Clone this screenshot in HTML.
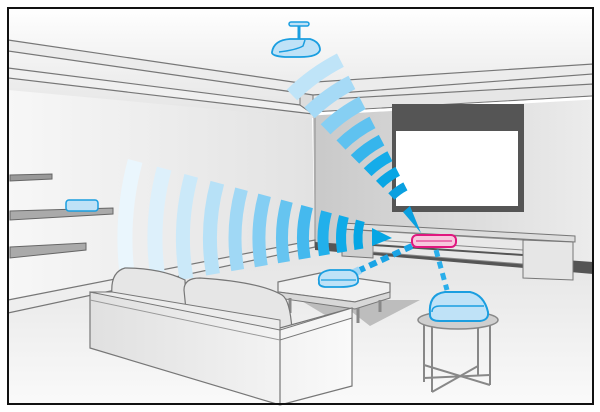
<!DOCTYPE html>
<html><head><style>html,body{margin:0;padding:0;background:#fff}svg{display:block}</style></head>
<body>
<svg width="600" height="412" viewBox="0 0 600 412" xmlns="http://www.w3.org/2000/svg">
<defs>
<linearGradient id="ceil" x1="0" y1="0" x2="0" y2="1"><stop offset="0" stop-color="#fff"/><stop offset="1" stop-color="#e4e4e4"/></linearGradient>
<linearGradient id="lwall" x1="0" y1="0" x2="1" y2="0"><stop offset="0" stop-color="#f7f7f7"/><stop offset="1" stop-color="#e2e2e2"/></linearGradient>
<linearGradient id="bwall" x1="0" y1="0" x2="1" y2="0"><stop offset="0" stop-color="#c9c9c9"/><stop offset="1" stop-color="#ececec"/></linearGradient>
<linearGradient id="floor" x1="0" y1="0" x2="0" y2="1"><stop offset="0" stop-color="#e4e4e4"/><stop offset="1" stop-color="#fafafa"/></linearGradient>
<linearGradient id="sofaf" x1="0" y1="0" x2="1" y2="0"><stop offset="0" stop-color="#e0e0e0"/><stop offset="1" stop-color="#fafafa"/></linearGradient>
</defs>
<rect x="0" y="0" width="600" height="412" fill="#fff"/>
<!-- ceiling -->
<rect x="8" y="8" width="586" height="110" fill="url(#ceil)"/>
<!-- left wall -->
<polygon points="8,90 312,118 315,247 8,310" fill="url(#lwall)"/>
<!-- floor -->
<polygon points="8,310 315,247 593,272 593,405 8,405" fill="url(#floor)"/>
<!-- back wall -->
<polygon points="313,114 593,98 593,272 315,247" fill="url(#bwall)"/>
<line x1="315" y1="116" x2="315" y2="248" stroke="#9a9a9a" stroke-width="1.2"/>
<!-- crown left -->
<polygon points="8,40 300,83 300,93 8,51" fill="#ececec" stroke="#777" stroke-width="1.2"/>
<polygon points="8,68 300,105 313,114 8,78" fill="#f0f0f0" stroke="#777" stroke-width="1.2"/>
<polygon points="300,83 313,88 313,114 300,105" fill="#ddd" stroke="#777" stroke-width="1"/>
<!-- crown right -->
<polygon points="300,83 593,64 593,74 313,95 300,93" fill="#ececec" stroke="#777" stroke-width="1.2"/>
<polygon points="313,100 593,84 593,96 313,112" fill="#e6e6e6" stroke="#777" stroke-width="1.2"/>
<line x1="313" y1="114" x2="593" y2="98" stroke="#fff" stroke-width="3"/>
<!-- TV -->
<rect x="392" y="104" width="132" height="108" fill="#555"/>
<rect x="396" y="131" width="122" height="75" fill="#fff"/>
<!-- baseboards -->
<polygon points="8,300 315,240 315,247 8,313" fill="#eee" stroke="#777" stroke-width="1.2"/>
<polygon points="315,242 593,262 593,274 315,250" fill="#555"/>
<!-- left shelves -->
<polygon points="10,175 52,174 52,179 10,181" fill="#999" stroke="#666"/>
<polygon points="10,211 113,208 113,214 10,220" fill="#aaa" stroke="#666"/>
<polygon points="10,247 86,243 86,250 10,258" fill="#aaa" stroke="#666"/>
<rect x="66" y="200" width="32" height="11" rx="3" fill="#bfe2f7" stroke="#1a9ee0" stroke-width="1.5"/>
<!-- console -->
<polygon points="342,223 575,236 575,242 342,229" fill="#ddd" stroke="#777"/>
<polygon points="342,229 373,231 373,258 342,256" fill="#cfcfcf" stroke="#777"/>
<polygon points="373,231 523,240 523,264 373,252" fill="#e8e8e8" stroke="#888"/>
<line x1="373" y1="240" x2="523" y2="250" stroke="#888"/>
<line x1="373" y1="245" x2="523" y2="255" stroke="#555" stroke-width="2"/>
<polygon points="523,240 573,242 573,280 523,278" fill="#e6e6e6" stroke="#777"/>
<!-- left waves -->
<g fill="none" stroke-linecap="butt">
<path d="M135.2,160.9 A300 300 0 0 0 129.2,288.7" stroke="#eaf6fd" stroke-width="15"/>
<path d="M164.2,168.6 A270 270 0 0 0 158.8,283.6" stroke="#ddf0fb" stroke-width="15"/>
<path d="M191.2,175.8 A242 242 0 0 0 186.4,278.9" stroke="#cbe9f9" stroke-width="14"/>
<path d="M217.3,182.7 A215 215 0 0 0 213,274.3" stroke="#b7e1f7" stroke-width="14"/>
<path d="M241.5,189.2 A190 190 0 0 0 237.7,270.1" stroke="#a0d8f5" stroke-width="13"/>
<path d="M264.6,195.3 A166 166 0 0 0 261.3,266.1" stroke="#84cef3" stroke-width="13"/>
<path d="M286.9,201.2 A143 143 0 0 0 284,262.2" stroke="#66c4f0" stroke-width="12"/>
<path d="M307.1,206.6 A122 122 0 0 0 304.7,258.6" stroke="#45b9ee" stroke-width="12"/>
<path d="M326.5,211.8 A102 102 0 0 0 324.4,255.2" stroke="#22b0eb" stroke-width="11"/>
<path d="M343.9,216.4 A84 84 0 0 0 342.2,252.2" stroke="#0fabe8" stroke-width="10"/>
<path d="M360.3,220.8 A67 67 0 0 0 358.9,249.3" stroke="#06a6e4" stroke-width="9"/>
</g>
<polygon points="372,228 392,238 372,246" fill="#06a6e4"/>
<!-- ceiling waves -->
<g fill="none">
<path d="M340.4,60.2 A200 200 0 0 0 292,95" stroke="#bfe4f8" stroke-width="15"/>
<path d="M351.9,82.4 A175 175 0 0 0 309.5,112.9" stroke="#a6daf6" stroke-width="15"/>
<path d="M362.4,102.9 A152 152 0 0 0 325.6,129.3" stroke="#86cff3" stroke-width="14"/>
<path d="M372.5,122.4 A130 130 0 0 0 341,145" stroke="#5fc2f0" stroke-width="13"/>
<path d="M381.6,140.2 A110 110 0 0 0 355,159.4" stroke="#36b5ec" stroke-width="12"/>
<path d="M389.9,156.2 A92 92 0 0 0 367.6,172.2" stroke="#14ace9" stroke-width="11"/>
<path d="M397.7,171.3 A75 75 0 0 0 379.5,184.4" stroke="#08a6e4" stroke-width="10"/>
<path d="M405.4,186.4 A58 58 0 0 0 391.4,196.5" stroke="#0aa0e0" stroke-width="9"/>
</g>
<polygon points="410,206 403,212 421,233" fill="#0aa0e0"/>
<!-- dashes to table & stool -->
<line x1="412" y1="246" x2="360" y2="270" stroke="#1aa4e6" stroke-width="6" stroke-dasharray="8 5"/>
<line x1="360" y1="270" x2="352" y2="274" stroke="#9fd6f5" stroke-width="8"/>
<line x1="436" y1="250" x2="447" y2="290" stroke="#2aaeea" stroke-width="5" stroke-dasharray="7 5"/>
<!-- soundbar -->
<rect x="412" y="235" width="44" height="12" rx="5" fill="#f7c8de" stroke="#e0177f" stroke-width="2"/>
<line x1="416" y1="241" x2="452" y2="241" stroke="#e0177f" stroke-width="1"/>
<!-- ceiling speaker -->
<rect x="289" y="22" width="20" height="4" rx="2" fill="#bfe2f7" stroke="#1a9ee0" stroke-width="1.5"/>
<line x1="299" y1="26" x2="299" y2="40" stroke="#1a9ee0" stroke-width="3"/>
<path d="M272,52 Q274,40 290,39 L310,39 Q320,42 320,50 Q318,57 300,57 L285,57 Q271,56 272,52Z" fill="#bfe2f7" stroke="#1a9ee0" stroke-width="1.8"/>
<path d="M279,52 Q296,50 303,46 L305,40" fill="none" stroke="#1a9ee0" stroke-width="1.5"/>
<!-- rug -->
<polygon points="300,300 420,300 370,326 352,312 330,318" fill="#bdbdbd"/>
<!-- coffee table -->
<polygon points="278,282 320,273 390,283 390,292 355,302 278,292" fill="#f0f0f0" stroke="#777" stroke-width="1.2"/>
<polygon points="278,292 355,302 390,292 390,298 355,309 278,298" fill="#d8d8d8" stroke="#777"/>
<line x1="290" y1="298" x2="290" y2="313" stroke="#888" stroke-width="3"/>
<line x1="358" y1="308" x2="358" y2="323" stroke="#888" stroke-width="3"/>
<line x1="380" y1="300" x2="380" y2="312" stroke="#888" stroke-width="3"/>
<path d="M319,282 Q317,272 330,270 L350,270 Q359,272 358,282 Q356,287 340,287 L325,287 Q318,286 319,282Z" fill="#bfe2f7" stroke="#1a9ee0" stroke-width="1.8"/>
<line x1="321" y1="280" x2="356" y2="280" stroke="#1a9ee0" stroke-width="1.2"/>
<!-- sofa -->
<path d="M112,295 Q110,272 125,268 Q160,268 185,280 L186,312 L115,300Z" fill="#e6e6e6" stroke="#777" stroke-width="1.2"/>
<path d="M184,290 Q184,278 200,278 Q260,282 282,295 Q290,300 292,330 L186,310Z" fill="#e6e6e6" stroke="#777" stroke-width="1.2"/>
<polygon points="90,292 115,296 280,328 352,308 352,386 280,405 90,348" fill="url(#sofaf)" stroke="#777" stroke-width="1.2"/>
<polygon points="90,292 112,292 280,320 280,330" fill="#ececec" stroke="#777"/>
<polygon points="280,330 352,308 352,318 280,340" fill="#f5f5f5" stroke="#777"/>
<line x1="280" y1="330" x2="280" y2="405" stroke="#777" stroke-width="1.2"/>
<line x1="90" y1="300" x2="280" y2="340" stroke="#999" stroke-width="1"/>
<!-- stool -->
<g stroke="#888" stroke-width="2" fill="none">
<line x1="424" y1="322" x2="424" y2="382"/>
<line x1="432" y1="324" x2="432" y2="392"/>
<line x1="490" y1="322" x2="490" y2="385"/>
<line x1="478" y1="326" x2="478" y2="375"/>
<line x1="424" y1="378" x2="490" y2="375"/>
<line x1="432" y1="392" x2="478" y2="366"/>
<line x1="424" y1="365" x2="490" y2="385"/>
</g>
<ellipse cx="458" cy="320" rx="40" ry="9" fill="#cfcfcf" stroke="#888" stroke-width="1.5"/>
<path d="M430,315 Q428,294 445,292 L470,292 Q484,295 488,312 Q489,320 480,321 L440,321 Q430,321 430,315Z" fill="#bfe2f7" stroke="#1a9ee0" stroke-width="2"/>
<path d="M432,312 Q432,306 440,306 L484,306" fill="none" stroke="#1a9ee0" stroke-width="1.5"/>
<!-- frame -->
<rect x="8" y="8" width="585" height="396" fill="none" stroke="#111" stroke-width="2"/>
</svg>
</body></html>
